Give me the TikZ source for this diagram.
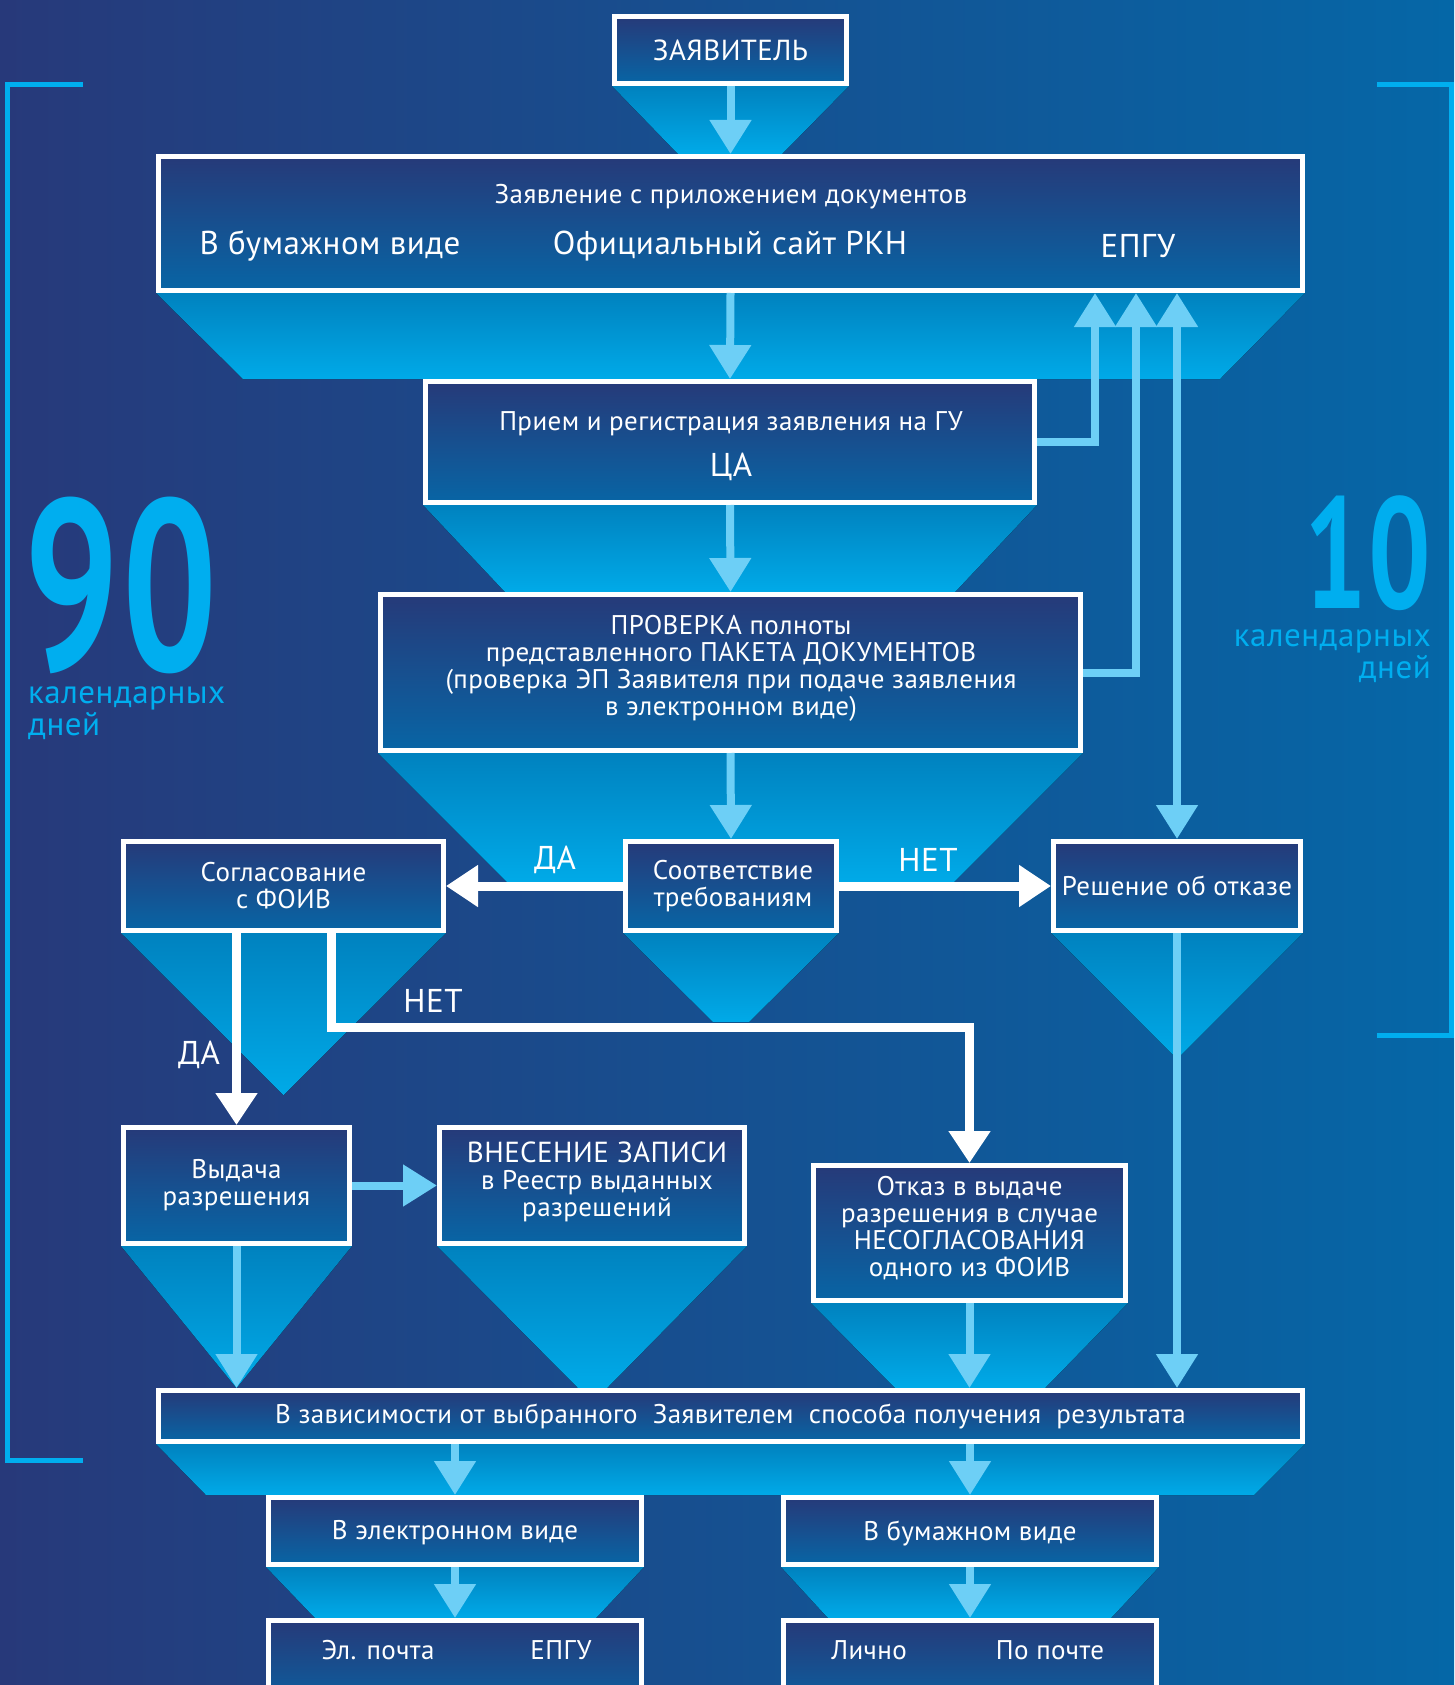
\documentclass[tikz,border=0pt]{standalone}
\usepackage{fontspec}
\setmainfont{PT Sans}[LetterSpace=1.5]
\usetikzlibrary{arrows.meta}
\definecolor{bgL}{HTML}{27397A}
\definecolor{bgR}{HTML}{0567A7}
\definecolor{boxT}{HTML}{263A79}
\definecolor{boxB}{HTML}{0865A5}
\definecolor{fT}{HTML}{0082BF}
\definecolor{fB}{HTML}{00AAE8}
\definecolor{lblue}{HTML}{6DCFF6}
\definecolor{cyanB}{HTML}{00AEEF}
\newcommand\fs[1]{\fontsize{#1}{#1}\selectfont}
\newcommand\fsl[2]{\fontsize{#1}{#2}\selectfont}
\newcommand\mkbox[5]{\node[boxst, minimum width={#4pt-#2pt-5pt}, minimum height={#5pt-#3pt-5pt}] (#1) at ({(#2+#4)/2},{(#3+#5)/2}) {};}
\begin{document}
\begin{tikzpicture}[x=1pt,y=-1pt,
  boxst/.style={draw=white, line width=5pt, top color=boxT, bottom color=boxB, inner sep=0pt},
  funnel/.style={top color=fT, bottom color=fB},
  larrow/.style={draw=lblue, line width=8pt, -{Triangle[width=40pt,length=34pt]}},
  lbiarrow/.style={draw=lblue, line width=8pt, {Triangle[width=40pt,length=34pt]}-{Triangle[width=40pt,length=34pt]}},
  warrow/.style={draw=white, line width=9pt, -{Triangle[width=40pt,length=32pt]}},
  txt/.style={text=white, align=center, inner sep=0pt, font=\fsl{27}{27}},
  lbl/.style={text=white, inner sep=0pt, font=\fs{33}},
  bracket/.style={draw=cyanB, line width=5pt},
  big/.style={text=cyanB, inner sep=0pt},
  cal/.style={text=cyanB, inner sep=0pt, font=\fsl{33}{32}}]
\clip (0,0) rectangle (1454,1685);
\fill[left color=bgL, right color=bgR] (0,0) rectangle (1454,1685);
% brackets
\draw[bracket] (83,85) -- (7,85) -- (7,1460) -- (83,1460);
\draw[bracket] (1377,85) -- (1451,85) -- (1451,1035) -- (1377,1035);
% numbers
\node[big] (n90) at (121,585) {\scalebox{0.69}[1]{\fontsize{243}{243}\selectfont\bfseries 90}};
\node[cal, align=left, anchor=base west] (c90) at (28,735) {календарных\\дней};
\node[big] (n10) at (1368,553) {\scalebox{0.7}[1]{\fontsize{158}{158}\selectfont\bfseries 10}};
\node[cal, align=right, anchor=base east] (c10) at (1431,678) {календарных\\дней};
% funnels
\fill[funnel] (612,86) -- (849,86) -- (782,154) -- (678,154) -- cycle;
\fill[funnel] (156,293) -- (1305,293) -- (1220,379) -- (243,379) -- cycle;
\fill[funnel] (423,505) -- (1037,505) -- (955,592) -- (505,592) -- cycle;
\fill[funnel] (378,753) -- (1083,753) -- (954,882) -- (507,882) -- cycle;
\fill[funnel] (623,933) -- (839,933) -- (749,1022) -- (713,1022) -- cycle;
\fill[funnel] (121,933) -- (446,933) -- (283.5,1095) -- cycle;
\fill[funnel] (1051,933) -- (1303,933) -- (1177,1059) -- cycle;
\fill[funnel] (121,1246) -- (352,1246) -- (236.5,1388) -- cycle;
\fill[funnel] (437,1246) -- (747,1246) -- (607,1388) -- (578,1388) -- cycle;
\fill[funnel] (811,1303) -- (1128,1303) -- (1045,1388) -- (895,1388) -- cycle;
\fill[funnel] (156,1444) -- (1305,1444) -- (1254,1495) -- (206,1495) -- cycle;
\fill[funnel] (266,1567) -- (644,1567) -- (596,1618) -- (315,1618) -- cycle;
\fill[funnel] (781,1567) -- (1159,1567) -- (1111,1618) -- (828,1618) -- cycle;
% boxes
\mkbox{zay}{612}{14}{849}{86}
\mkbox{main}{156}{154}{1305}{293}
\mkbox{priem}{423}{379}{1037}{505}
\mkbox{prov}{378}{592}{1083}{753}
\mkbox{sogl}{121}{839}{446}{933}
\mkbox{sootv}{623}{839}{839}{933}
\mkbox{resh}{1051}{839}{1303}{933}
\mkbox{vyd}{121}{1125}{352}{1246}
\mkbox{vnes}{437}{1125}{747}{1246}
\mkbox{otk}{811}{1163}{1128}{1303}
\mkbox{zav}{156}{1388}{1305}{1444}
\mkbox{el}{266}{1495}{644}{1567}
\mkbox{bum}{781}{1495}{1159}{1567}
\mkbox{elb}{266}{1618}{644}{1720}
\mkbox{bumb}{781}{1618}{1159}{1720}
% texts
\node[txt, font=\fs{29}] (tzay) at (730.5,50) {ЗАЯВИТЕЛЬ};
\node[txt] (tmain) at (731,197) {Заявление с приложением документов};
\node[txt, font=\fs{33}] (tbum1) at (330,246) {В бумажном виде};
\node[txt, font=\fs{33}] (tsite) at (730,246) {Официальный сайт РКН};
\node[txt, font=\fs{33}] (tepgu1) at (1138,246) {ЕПГУ};
\node[txt] (tpriem) at (731,424) {Прием и регистрация заявления на ГУ};
\node[txt, font=\fs{33}] (tca) at (731,467) {ЦА};
\node[txt] (tprov) at (731,668) {ПРОВЕРКА полноты\\представленного ПАКЕТА ДОКУМЕНТОВ\\(проверка ЭП Заявителя при подаче заявления\\в электронном виде)};
\node[txt] (tsogl) at (283.5,886) {Согласование\\с ФОИВ};
\node[txt] (tsootv) at (733,886) {Соответствие\\требованиям};
\node[txt] (tresh) at (1177,886) {Решение об отказе};
\node[txt] (tvyd) at (236.5,1185.5) {Выдача\\разрешения};
\node[txt] (tvnes) at (597,1182) {{\fs{29}ВНЕСЕНИЕ ЗАПИСИ}\\в Реестр выданных\\разрешений};
\node[txt] (totk) at (969.5,1228) {Отказ в выдаче\\разрешения в случае\\НЕСОГЛАСОВАНИЯ\\одного из ФОИВ};
\node[txt] (tzav) at (730.5,1416) {В зависимости от выбранного\ \ Заявителем\ \ способа получения\ \ результата};
\node[txt] (tel) at (455,1533) {В электронном виде};
\node[txt] (tbum2) at (970,1533) {В бумажном виде};
\node[txt] (tmail) at (378,1650) {Эл. почта};
\node[txt] (tepgu2) at (561,1650) {ЕПГУ};
\node[txt] (tlich) at (869,1650) {Лично};
\node[txt] (tpost) at (1050,1650) {По почте};
% light arrows
\coordinate (ex1) at (1095,0);
\coordinate (ex2) at (1136,0);
\draw[larrow] (zay.south) -- (main.north);
\draw[larrow] (main.south) -- (priem.north);
\draw[larrow] (priem.south) -- (prov.north);
\draw[larrow] (prov.south) -- (sootv.north);
\draw[larrow] (priem.east) -| (ex1 |- main.south);
\draw[larrow] (prov.east) -| (ex2 |- main.south);
\draw[lbiarrow] (resh.north) -- (resh.north |- main.south);
\draw[larrow] (resh.south) -- (resh.south |- zav.north);
\draw[larrow] (vyd.south) -- (vyd.south |- zav.north);
\draw[larrow] (otk.south) -- (otk.south |- zav.north);
\draw[larrow] (vyd.east) -- (vnes.west);
\draw[larrow] (el.north |- zav.south) -- (el.north);
\draw[larrow] (bum.north |- zav.south) -- (bum.north);
\draw[larrow] (el.south) -- (elb.north);
\draw[larrow] (bum.south) -- (bumb.north);
% white arrows
\coordinate (n1) at (331,1027);
\draw[warrow] (sootv.west) -- (sogl.east);
\draw[warrow] (sootv.east) -- (resh.west);
\draw[warrow] (vyd.north |- sogl.south) -- (vyd.north);
\draw[warrow] (n1 |- sogl.south) -- (n1) -| (otk.north);
% labels
\node[lbl] (da1) at (555,860) {ДА};
\node[lbl] (net1) at (928,860) {НЕТ};
\node[lbl] (net2) at (433,1001) {НЕТ};
\node[lbl] (da2) at (199,1055) {ДА};
\end{tikzpicture}
\end{document}
